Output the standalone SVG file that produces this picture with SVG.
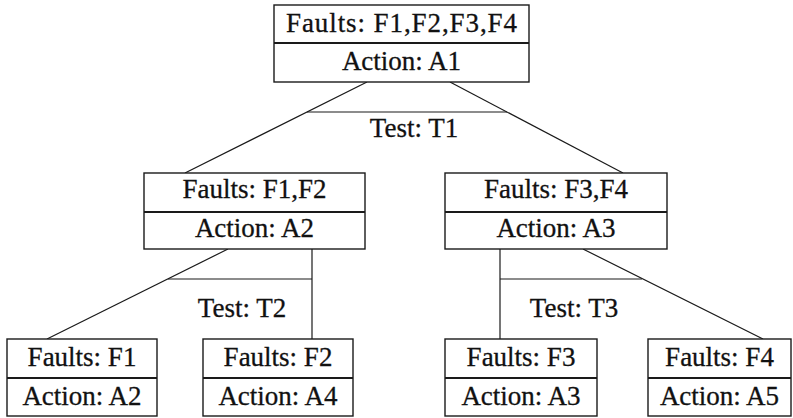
<svg xmlns="http://www.w3.org/2000/svg" width="793" height="418" viewBox="0 0 793 418">
  <style>
    .box { fill: #ffffff; stroke: #1a1a1a; stroke-width: 1.4; }
    .div { stroke: #1a1a1a; stroke-width: 2; }
    .edge { fill: none; stroke: #1a1a1a; stroke-width: 1.2; }
    text { font-family: "Liberation Serif", "Times New Roman", serif; font-size: 27px; fill: #111111; stroke: #111111; stroke-width: 0.3; text-anchor: middle; }
  </style>
  <rect width="793" height="418" fill="#ffffff"/>

  <!-- connectors: each test is a split line with a horizontal bar and a label -->
  <g id="connectors">
    <g id="test-T1">
      <line class="edge" x1="367" y1="82" x2="185" y2="173"/>
      <line class="edge" x1="450" y1="82" x2="623" y2="173"/>
      <line class="edge" x1="307" y1="112" x2="507" y2="112"/>
      <text x="414" y="137">Test: T1</text>
    </g>
    <g id="test-T2">
      <line class="edge" x1="228" y1="249" x2="47" y2="339"/>
      <line class="edge" x1="312" y1="249" x2="312" y2="339"/>
      <line class="edge" x1="168" y1="279" x2="312" y2="279"/>
      <text x="242" y="317">Test: T2</text>
    </g>
    <g id="test-T3">
      <line class="edge" x1="500" y1="249" x2="500" y2="339"/>
      <line class="edge" x1="583" y1="249" x2="763" y2="339"/>
      <line class="edge" x1="500" y1="279" x2="642" y2="279"/>
      <text x="574" y="317">Test: T3</text>
    </g>
  </g>

  <!-- root -->
  <g id="node-root">
    <rect class="box" x="274" y="5" width="255" height="77"/>
    <line class="div" x1="274" y1="43" x2="529" y2="43"/>
    <text x="401.5" y="32" textLength="231" lengthAdjust="spacing">Faults: F1,F2,F3,F4</text>
    <text x="401.5" y="70">Action: A1</text>
  </g>

  <!-- second level -->
  <g id="node-F1F2">
    <rect class="box" x="144" y="173" width="221" height="76"/>
    <line class="div" x1="144" y1="212" x2="365" y2="212"/>
    <text x="254.5" y="198">Faults: F1,F2</text>
    <text x="254.5" y="237">Action: A2</text>
  </g>
  <g id="node-F3F4">
    <rect class="box" x="445" y="173" width="222" height="76"/>
    <line class="div" x1="445" y1="212" x2="667" y2="212"/>
    <text x="556" y="198">Faults: F3,F4</text>
    <text x="556" y="237">Action: A3</text>
  </g>

  <!-- leaves -->
  <g id="node-F1">
    <rect class="box" x="7" y="339" width="150" height="77"/>
    <line class="div" x1="7" y1="378" x2="157" y2="378"/>
    <text x="82" y="366">Faults: F1</text>
    <text x="82" y="405">Action: A2</text>
  </g>
  <g id="node-F2">
    <rect class="box" x="203" y="339" width="150" height="77"/>
    <line class="div" x1="203" y1="378" x2="353" y2="378"/>
    <text x="278" y="366">Faults: F2</text>
    <text x="278" y="405">Action: A4</text>
  </g>
  <g id="node-F3">
    <rect class="box" x="445" y="339" width="152" height="77"/>
    <line class="div" x1="445" y1="378" x2="597" y2="378"/>
    <text x="521" y="366">Faults: F3</text>
    <text x="521" y="405">Action: A3</text>
  </g>
  <g id="node-F4">
    <rect class="box" x="648" y="339" width="143" height="77"/>
    <line class="div" x1="648" y1="378" x2="791" y2="378"/>
    <text x="719.5" y="366">Faults: F4</text>
    <text x="719.5" y="405">Action: A5</text>
  </g>
</svg>
